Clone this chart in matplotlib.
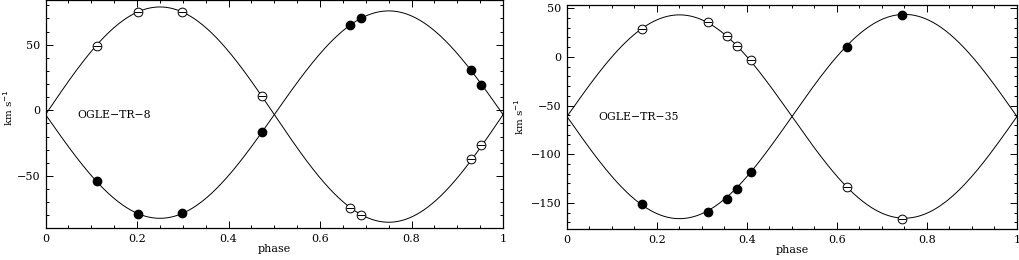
import numpy as np
import matplotlib.pyplot as plt
from matplotlib.ticker import MultipleLocator, FuncFormatter

# OGLE-TR-8
phase_8 = [0.112, 0.202, 0.298, 0.472, 0.665, 0.689, 0.929, 0.952]
rv_open_8 = [49.0, 75.0, 74.6, 10.9, -74.8, -80.0, -37.4, -26.7]
rv_fill_8 = [-54.2, -78.9, -78.4, -16.8, 64.9, 70.5, 30.3, 19.3]
gamma_8, k1_8, k2_8 = -3.3, 82.0, 79.0

# OGLE-TR-35
phase_35 = [0.167, 0.314, 0.355, 0.378, 0.410, 0.623, 0.745]
rv_open_35 = [28.2, 35.7, 21.6, 11.3, -2.7, -133.7, -166.3]
rv_fill_35 = [-151.5, -159.8, -146.1, -135.4, -118.3, 10.3, 43.2]
gamma_35, k1_35, k2_35 = -61.3, 104.5, 105.0

plt.rcParams['font.family'] = 'DejaVu Serif'
plt.rcParams['font.size'] = 8

fig = plt.figure(figsize=(10.19, 2.6), dpi=100)
ax1 = fig.add_axes([0.0447, 0.123, 0.449, 0.877])
ax2 = fig.add_axes([0.5564, 0.119, 0.4416, 0.862])


def fmt(v, pos):
    s = "%g" % round(v, 3)
    return s.replace("-", "\u2212")


def panel(ax, ph, vo, vf, gam, k1, k2, name, ylim, ylab_xy):
    t = np.linspace(0, 1, 400)
    ax.plot(t, gam + k1 * np.sin(2 * np.pi * t), color="black", lw=0.7)
    ax.plot(t, gam - k2 * np.sin(2 * np.pi * t), color="black", lw=0.7)
    ax.plot(ph, vo, "o", mfc="white", mec="black", mew=0.7, ms=6.3, zorder=3)
    ax.plot(ph, vo, "_", color="black", mew=0.7, ms=6.3, zorder=4)
    ax.plot(ph, vf, "o", color="black", ms=6.0, zorder=3)
    ax.text(0.07, gam, name, va="center", ha="left", fontsize=7.8)
    ax.set_xlim(0, 1)
    ax.set_ylim(*ylim)
    ax.xaxis.set_major_locator(MultipleLocator(0.2))
    ax.xaxis.set_minor_locator(MultipleLocator(0.05))
    ax.yaxis.set_major_locator(MultipleLocator(50))
    ax.yaxis.set_minor_locator(MultipleLocator(10))
    ax.xaxis.set_major_formatter(FuncFormatter(fmt))
    ax.yaxis.set_major_formatter(FuncFormatter(fmt))
    ax.tick_params(which="both", direction="in", top=True, right=True, width=0.7)
    ax.tick_params(which="major", length=5, pad=4)
    ax.tick_params(which="minor", length=2.5)
    ax.set_xlabel("phase")
    ax.set_ylabel("km s$^{-1}$", fontsize=7.5)
    ax.xaxis.set_label_coords(0.5, -0.07)
    ax.yaxis.set_label_coords(*ylab_xy)
    for sp in ax.spines.values():
        sp.set_linewidth(0.9)


panel(ax1, phase_8, rv_open_8, rv_fill_8, gamma_8, k1_8, k2_8,
      "OGLE\u2212TR\u22128", (-89.7, 84), (-0.067, 0.53))
panel(ax2, phase_35, rv_open_35, rv_fill_35, gamma_35, k1_35, k2_35,
      "OGLE\u2212TR\u221235", (-177, 53.4), (-0.091, 0.5))

fig.savefig("out.png", dpi=100)
